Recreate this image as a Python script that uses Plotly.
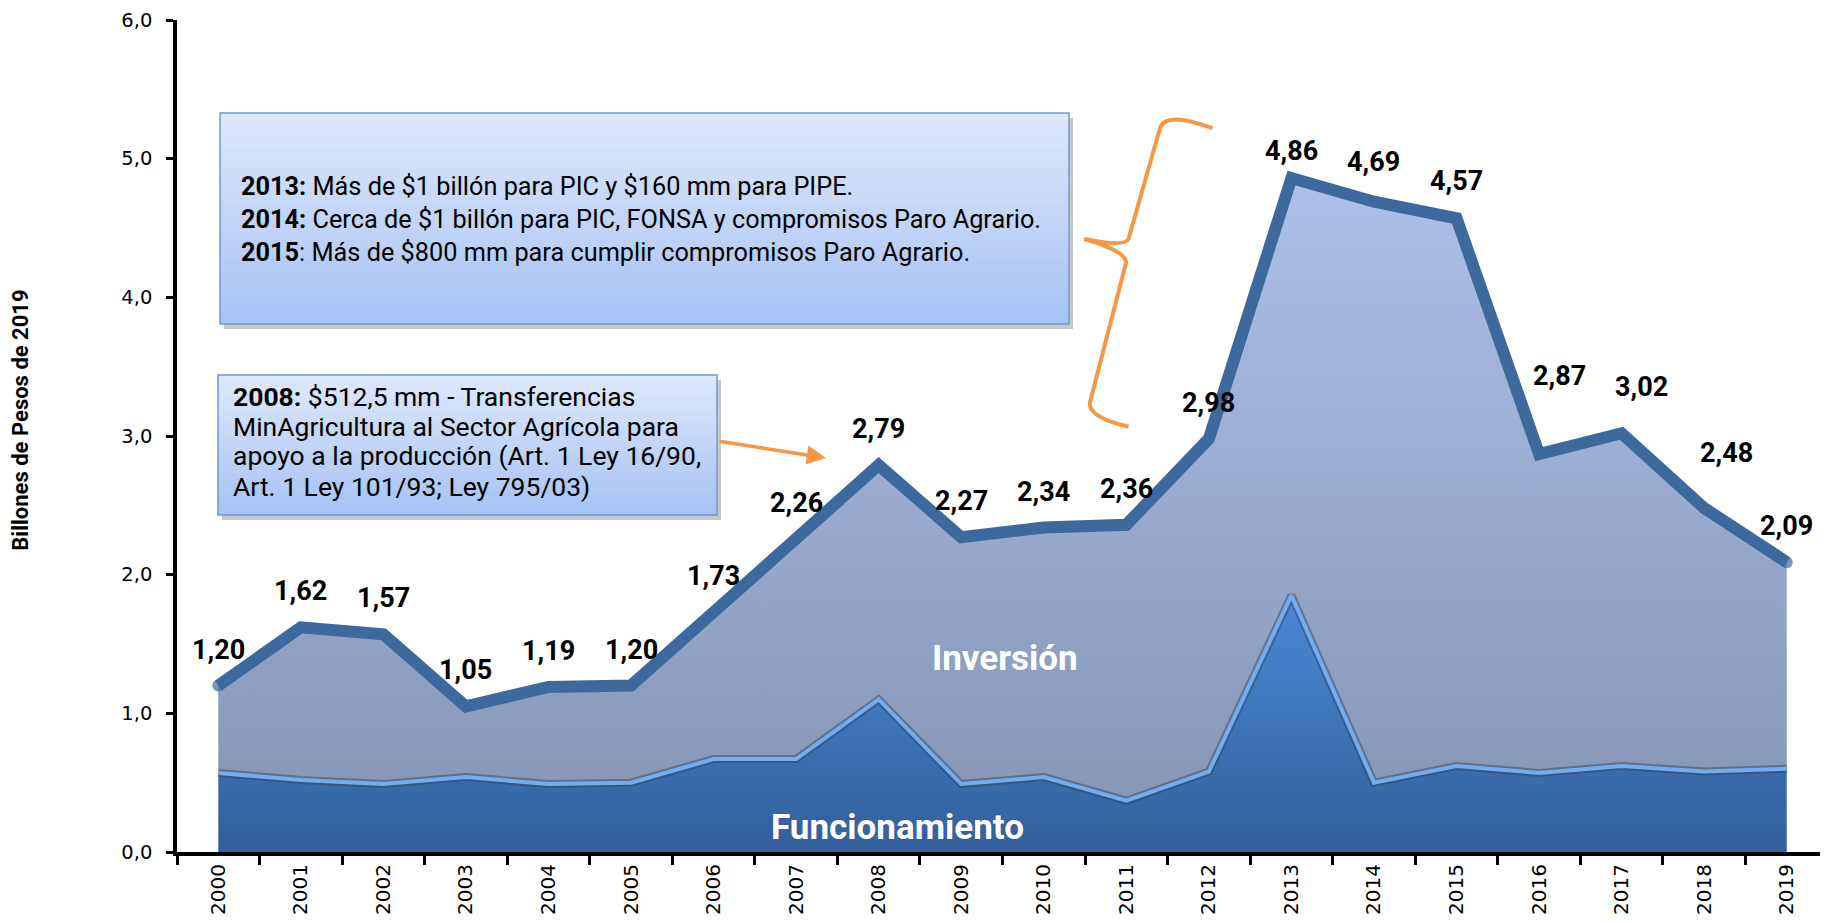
import plotly.graph_objects as go

years = [str(y) for y in range(2000, 2020)]
total = [1.20, 1.62, 1.57, 1.05, 1.19, 1.20, 1.73, 2.26, 2.79, 2.27,
         2.34, 2.36, 2.98, 4.86, 4.69, 4.57, 2.87, 3.02, 2.48, 2.09]
funcionamiento = [0.57, 0.52, 0.49, 0.54, 0.49, 0.50, 0.67, 0.67, 1.10, 0.49,
                  0.54, 0.37, 0.58, 1.85, 0.50, 0.62, 0.57, 0.62, 0.58, 0.60]
labels = [f"{v:.2f}".replace(".", ",") for v in total]

box1_lines = ["<b>2013:</b> Más de $1 billón para PIC y $160 mm para PIPE.",
              "<b>2014:</b> Cerca de $1 billón para PIC, FONSA y compromisos Paro Agrario.",
              "<b>2015</b>: Más de $800 mm para cumplir compromisos Paro Agrario."]
box2_lines = ["<b>2008:</b> $512,5 mm - Transferencias",
              "MinAgricultura al Sector Agrícola para",
              "apoyo a la producción (Art. 1 Ley 16/90,",
              "Art. 1 Ley 101/93; Ley 795/03)"]

OFF = 8                      # browser body margin
W, H = 1828 - OFF, 923 - OFF
# plot area in page pixels
L, R, T, B = 177, 1828, 20, 852


def PX(x):
    return (x - L) / (R - L)


def PY(y):
    return (B - y) / (B - T)


S = 1.1658  # displayed -> full px
FONT = "Roboto, sans-serif"

fig = go.Figure()
fig.add_trace(go.Scatter(
    x=years, y=funcionamiento, mode="lines", fill="tozeroy",
    line=dict(color="#6aa6ea", width=0),
    fillgradient=dict(type="vertical", colorscale=[[0, "#335f9b"], [1, "#4a8ad8"]],
                      start=0, stop=1.9),
    hoverinfo="skip", showlegend=False))
end_markers = [12] + [0] * 18 + [12]
fig.add_trace(go.Scatter(
    x=years, y=total, mode="lines+markers", fill="tonexty",
    line=dict(color="#3d699d", width=12),
    marker=dict(size=end_markers, color="#3d699d", line=dict(width=0)),
    fillgradient=dict(type="vertical", colorscale=[[0, "#8394b3"], [1, "#adc2eb"]],
                      start=0, stop=5),
    hoverinfo="skip", showlegend=False))
# bevel edge of Funcionamiento area
fig.add_trace(go.Scatter(
    x=years, y=funcionamiento, mode="lines",
    line=dict(color="rgba(55,60,75,0.45)", width=8),
    hoverinfo="skip", showlegend=False))
fig.add_trace(go.Scatter(
    x=years, y=funcionamiento, mode="lines",
    line=dict(color="#70adf2", width=4),
    hoverinfo="skip", showlegend=False))

shapes = []
annotations = []

# label offsets (pixels) for data labels
xshift = [0] * 20
yshift = [36] * 20
xshift[16], yshift[16] = 20, 78
xshift[17], yshift[17] = 20, 46
xshift[18], yshift[18] = 22, 55
yshift[13] = 27
yshift[14] = 40
yshift[15] = 37

for i, (v, lab) in enumerate(zip(total, labels)):
    annotations.append(dict(x=i, y=v, xref="x", yref="y", text=f"<b>{lab}</b>",
                            showarrow=False, yshift=yshift[i], xshift=xshift[i],
                            xanchor="center", yanchor="middle",
                            font=dict(family=FONT, size=27, color="black")))


def grad_box(x0, y0, x1, y1, c0, c1, n=30):
    shapes.append(dict(type="rect", xref="paper", yref="paper",
                       x0=PX(x0 + 4), x1=PX(x1 + 4), y0=PY(y0 + 5), y1=PY(y1 + 5),
                       fillcolor="rgba(0,0,0,0.22)", line=dict(width=0), layer="above"))
    for k in range(n):
        t = k / (n - 1)
        r = int(c0[0] + (c1[0] - c0[0]) * t)
        g = int(c0[1] + (c1[1] - c0[1]) * t)
        b = int(c0[2] + (c1[2] - c0[2]) * t)
        ya = y0 + (y1 - y0) * k / n
        yb = y0 + (y1 - y0) * (k + 1) / n + 0.6
        shapes.append(dict(type="rect", xref="paper", yref="paper",
                           x0=PX(x0), x1=PX(x1), y0=PY(ya), y1=PY(min(yb, y1)),
                           fillcolor=f"rgb({r},{g},{b})", line=dict(width=0), layer="above"))
    shapes.append(dict(type="rect", xref="paper", yref="paper",
                       x0=PX(x0), x1=PX(x1), y0=PY(y0), y1=PY(y1),
                       fillcolor="rgba(0,0,0,0)", line=dict(color="#6f98d2", width=1.5),
                       layer="above"))


grad_box(220, 113, 1069, 324, (222, 232, 252), (166, 196, 244))
grad_box(218, 375, 717, 515, (222, 232, 252), (166, 196, 244))

for line, yd in zip(box1_lines, [160, 188, 217]):
    annotations.append(dict(x=PX(205 * S), y=PY(yd * S), xref="paper", yref="paper",
                            xanchor="left", yanchor="middle", align="left",
                            text=line, showarrow=False,
                            font=dict(family=FONT, size=25.3, color="black")))
for line, yd in zip(box2_lines, [340, 365.5, 391, 417]):
    annotations.append(dict(x=PX(198 * S), y=PY(yd * S), xref="paper", yref="paper",
                            xanchor="left", yanchor="middle", align="left",
                            text=line, showarrow=False,
                            font=dict(family=FONT, size=26.5, color="black")))

# arrow
annotations.append(dict(x=PX(826), y=PY(458), xref="paper", yref="paper",
                        ax=-108, ay=-17, text="", showarrow=True,
                        arrowcolor="#f79646", arrowwidth=3.5, arrowhead=2, arrowsize=1.1))

# brace
pts_disp = [(1040, 110), (1000, 95), (995, 110), (968, 205), (965, 212), (930, 205),
            (965, 215), (966, 225), (935, 345), (933, 358), (968, 366)]
P = [(PX(x * S), PY(y * S)) for x, y in pts_disp]
path = (f"M {P[0][0]},{P[0][1]} Q {P[1][0]},{P[1][1]} {P[2][0]},{P[2][1]} "
        f"L {P[3][0]},{P[3][1]} Q {P[4][0]},{P[4][1]} {P[5][0]},{P[5][1]} "
        f"Q {P[6][0]},{P[6][1]} {P[7][0]},{P[7][1]} "
        f"L {P[8][0]},{P[8][1]} Q {P[9][0]},{P[9][1]} {P[10][0]},{P[10][1]}")
shapes.append(dict(type="path", xref="paper", yref="paper", path=path,
                   line=dict(color="#f79646", width=4), layer="above"))

# series labels
annotations.append(dict(x=PX(862 * S), y=PY(565 * S), xref="paper", yref="paper",
                        xanchor="center", yanchor="middle",
                        text="<b>Inversión</b>", showarrow=False,
                        font=dict(family=FONT, size=35, color="white")))
annotations.append(dict(x=PX(770 * S), y=PY(710 * S), xref="paper", yref="paper",
                        xanchor="center", yanchor="middle",
                        text="<b>Funcionamiento</b>", showarrow=False,
                        font=dict(family=FONT, size=35, color="white")))
# y title
annotations.append(dict(x=PX(18 * S), y=PY(360 * S), xref="paper", yref="paper",
                        xanchor="center", yanchor="middle",
                        text="<b>Billones de Pesos de 2019</b>", textangle=-90,
                        showarrow=False,
                        font=dict(family=FONT, size=22, color="black")))

fig.update_layout(
    width=W, height=H, autosize=False,
    margin=dict(l=L - OFF, r=0, t=T - OFF, b=H - (B - OFF)),
    paper_bgcolor="white", plot_bgcolor="white",
    separators=",.",
    shapes=shapes, annotations=annotations,
    xaxis=dict(type="category", range=[-0.5, 19.5], tickson="boundaries",
               ticks="outside", ticklen=9, tickwidth=3, tickcolor="black",
               showline=True, linewidth=4, linecolor="black", showgrid=False,
               tickangle=-90, tickfont=dict(family="DejaVu Sans", size=20, color="black")),
    yaxis=dict(range=[0, 6], dtick=1, tickformat=".1f", ticks="outside",
               ticklen=7, tickwidth=3, tickcolor="black", showline=True,
               linewidth=3.5, linecolor="black", showgrid=False, zeroline=False,
               ticklabelstandoff=10, ticklabeloverflow="allow",
               tickfont=dict(family="DejaVu Sans", size=19.5, color="black")),
)

fig.write_html("out.html")
